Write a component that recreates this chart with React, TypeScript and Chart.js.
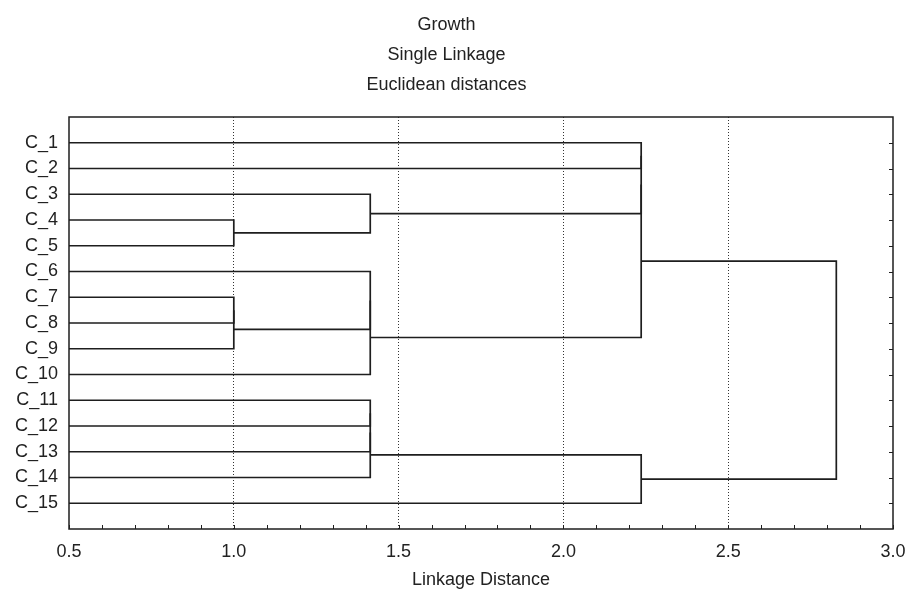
import React, { useEffect, useRef } from "react";
import { Chart, registerables } from "chart.js";

Chart.register(...registerables);

// ---- Data ----
const leafLabels = ["C_1", "C_2", "C_3", "C_4", "C_5", "C_6", "C_7", "C_8", "C_9", "C_10", "C_11", "C_12", "C_13", "C_14", "C_15"];
// Linkage table: node ids 0..14 are leaves, each merge creates node 15, 16, ...
const mergeLeft = [3, 6, 16, 2, 5, 19, 10, 21, 22, 0, 24, 25, 23, 26];
const mergeRight = [4, 7, 8, 15, 17, 9, 11, 12, 13, 1, 18, 20, 14, 27];
const mergeHeight = [1.0, 1.0, 1.0, 1.414, 1.414, 1.414, 1.414, 1.414, 1.414, 2.236, 2.236, 2.236, 2.236, 2.828];
const xTickMin = 0.5;
const xTickMax = 3.0;
const xTickStep = 0.5;
const xMinorStep = 0.1;
const titleLines = ["Growth", "Single Linkage", "Euclidean distances"];
const xAxisTitle = "Linkage Distance";

const INK = "#1e1e1e";
const FONT = "'Liberation Sans', Arial, sans-serif";

function buildDatasets() {
  const nLeaves = leafLabels.length;
  const pos: number[] = leafLabels.map((_, i) => i + 1);
  const height: number[] = leafLabels.map(() => 0);
  const datasets: any[] = [];
  for (let m = 0; m < mergeLeft.length; m++) {
    const a = mergeLeft[m];
    const b = mergeRight[m];
    const h = mergeHeight[m];
    datasets.push({
      data: [
        { x: height[a], y: pos[a] },
        { x: h, y: pos[a] },
        { x: h, y: pos[b] },
        { x: height[b], y: pos[b] },
      ],
      showLine: true,
      borderColor: INK,
      borderWidth: 1.7,
      pointRadius: 0,
      fill: false,
      tension: 0,
    });
    pos[nLeaves + m] = (pos[a] + pos[b]) / 2;
    height[nLeaves + m] = h;
  }
  return datasets;
}

const framePlugin = {
  id: "frame",
  afterDatasetsDraw(chart: any) {
    const { ctx, chartArea: a, scales } = chart;
    ctx.save();
    ctx.strokeStyle = INK;
    ctx.lineWidth = 1.5;
    ctx.strokeRect(a.left, a.top, a.right - a.left, a.bottom - a.top);
    ctx.lineWidth = 1;
    const nMinor = Math.round((xTickMax - xTickMin) / xMinorStep);
    for (let i = 0; i <= nMinor; i++) {
      const px = Math.round(scales.x.getPixelForValue(xTickMin + i * xMinorStep)) + 0.5;
      ctx.beginPath();
      ctx.moveTo(px, a.bottom);
      ctx.lineTo(px, a.bottom - 4);
      ctx.stroke();
    }
    for (let i = 0; i < leafLabels.length; i++) {
      const py = Math.round(scales.y.getPixelForValue(i + 1)) + 0.5;
      ctx.beginPath();
      ctx.moveTo(a.right, py);
      ctx.lineTo(a.right - 4, py);
      ctx.stroke();
    }
    ctx.restore();
  },
};

export default function App() {
  const ref = useRef<HTMLCanvasElement>(null);
  useEffect(() => {
    const canvas = ref.current;
    if (!canvas) return;
    Chart.defaults.font.family = FONT;
    Chart.defaults.color = "#222";
    const chart = new Chart(canvas, {
      type: "scatter",
      data: { datasets: buildDatasets() },
      options: {
        animation: false,
        responsive: false,
        devicePixelRatio: 1,
        layout: { padding: { left: 0, right: 16, top: 0, bottom: 0 } },
        plugins: {
          legend: { display: false },
          tooltip: { enabled: false },
          title: {
            display: true,
            text: titleLines,
            color: "#222",
            font: { size: 18, weight: "normal", family: FONT, lineHeight: 30 / 18 },
            padding: { top: 10, bottom: 17 },
          },
        },
        scales: {
          x: {
            type: "linear",
            min: xTickMin,
            max: xTickMax,
            ticks: {
              stepSize: xTickStep,
              padding: 12,
              color: "#222",
              font: { size: 18, family: FONT },
              callback: (v: any) => Number(v).toFixed(1),
              maxRotation: 0,
            },
            grid: {
              drawTicks: false,
              lineWidth: 1,
              color: (c: any) => {
                const v = c.tick ? c.tick.value : null;
                if (v === null || Math.abs(v - xTickMin) < 1e-6 || Math.abs(v - xTickMax) < 1e-6) return "rgba(0,0,0,0)";
                return "#333";
              },
            },
            border: { display: false, dash: [1, 2] },
            title: {
              display: true,
              text: xAxisTitle,
              color: "#222",
              font: { size: 18, family: FONT },
              padding: { top: 0, bottom: 3 },
            },
            afterFit: (s: any) => {
              s.height = 65;
              s.paddingLeft = 0;
              s.paddingRight = 0;
            },
          },
          y: {
            type: "linear",
            min: 0,
            max: leafLabels.length + 1,
            reverse: true,
            afterBuildTicks: (s: any) => {
              s.ticks = leafLabels.map((_, i) => ({ value: i + 1 }));
            },
            ticks: {
              padding: 11,
              color: "#222",
              font: { size: 18, family: FONT },
              autoSkip: false,
              callback: (v: any) => leafLabels[Math.round(Number(v)) - 1] ?? "",
            },
            grid: { display: false, drawTicks: false },
            border: { display: false },
            afterFit: (s: any) => {
              s.width = 69;
              s.paddingTop = 0;
              s.paddingBottom = 0;
            },
          },
        },
      },
      plugins: [framePlugin],
    } as any);
    return () => chart.destroy();
  }, []);
  return (
    <div style={{ position: "absolute", left: 0, top: 0, width: 909, height: 594, background: "#fff" }}>
      <canvas ref={ref} width={909} height={594} style={{ display: "block", width: 909, height: 594 }} />
    </div>
  );
}
